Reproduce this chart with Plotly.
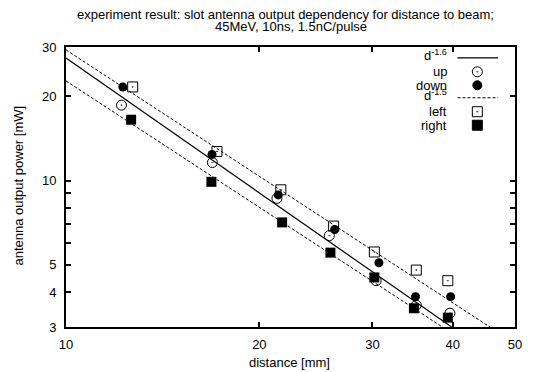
import plotly.graph_objects as go

# ---- data ----
up_x = [12.2, 16.9, 21.3, 25.7, 30.4, 35.1, 39.6]
up_y = [18.6, 11.6, 8.64, 6.36, 4.39, 3.59, 3.36]
down_x = [12.26, 16.88, 21.4, 26.2, 30.7, 35.0, 39.7]
down_y = [21.6, 12.4, 8.89, 6.69, 5.09, 3.85, 3.85]
left_x = [12.7, 17.18, 21.6, 26.1, 30.2, 35.1, 39.3]
left_y = [21.6, 12.7, 9.27, 6.88, 5.56, 4.79, 4.39]
right_x = [12.63, 16.84, 21.7, 25.8, 30.2, 34.8, 39.3]
right_y = [16.5, 9.9, 7.09, 5.53, 4.51, 3.50, 3.24]

# fit lines (values read at distance 10 and 50)
fit_x = [10, 50]
fit16_y = [27.4, 2.085]
fit15_hi_y = [29.3, 2.62]
fit15_lo_y = [22.7, 2.03]

x_ticks = [10, 20, 30, 40, 50]
y_ticks = [3, 4, 5, 10, 20, 30]
y_minor_ticks = [6, 7, 8, 9]

legend_labels = ["d<sup>-1.6</sup>", "up", "down", "d<sup>-1.5</sup>", "left", "right"]

title_lines = ["experiment result: slot antenna output dependency for distance to beam;",
               "45MeV, 10ns, 1.5nC/pulse"]
x_title = "distance [mm]"
y_title = "antenna output power [mW]"

# ---- layout geometry (pixels) ----
W, H = 534, 372
L, R, T, B = 66, 519, 46.7, 327

FONT = "Liberation Sans, Arial, sans-serif"
BLACK = "#000000"
DASH = "3px,2px"
FS = 13


def px_x(p):
    return (p - L) / (R - L)


def px_y(p):
    return (B - p) / (B - T)


fig = go.Figure()

fig.add_trace(go.Scatter(x=fit_x, y=fit16_y, mode="lines",
                         line=dict(color=BLACK, width=1.2), showlegend=False))
fig.add_trace(go.Scatter(x=up_x, y=up_y, mode="markers",
                         marker=dict(symbol="circle-open-dot", size=10, color=BLACK,
                                     line=dict(width=1, color=BLACK)), showlegend=False))
fig.add_trace(go.Scatter(x=down_x, y=down_y, mode="markers",
                         marker=dict(symbol="circle", size=9, color=BLACK), showlegend=False))
fig.add_trace(go.Scatter(x=fit_x, y=fit15_hi_y, mode="lines",
                         line=dict(color=BLACK, width=1, dash=DASH), showlegend=False))
fig.add_trace(go.Scatter(x=fit_x, y=fit15_lo_y, mode="lines",
                         line=dict(color=BLACK, width=1, dash=DASH), showlegend=False))
fig.add_trace(go.Scatter(x=left_x, y=left_y, mode="markers",
                         marker=dict(symbol="square-open-dot", size=10, color=BLACK,
                                     line=dict(width=1, color=BLACK)), showlegend=False))
fig.add_trace(go.Scatter(x=right_x, y=right_y, mode="markers",
                         marker=dict(symbol="square", size=10, color=BLACK), showlegend=False))

# ---- custom gnuplot-style key (text right, sample left) ----
key_rows = [57.5, 71.5, 85, 97.5, 111.5, 125]
key_text_right = 452
key_sample_x = 481
key_line = (461, 502)

for lab, yy in zip(legend_labels, key_rows):
    sup = "<sup>" in lab
    fig.add_annotation(x=px_x(key_text_right), y=px_y(yy - (3 if sup else 0)),
                       xref="paper", yref="paper",
                       text=lab, showarrow=False, xanchor="right", yanchor="middle",
                       font=dict(family=FONT, size=FS, color=BLACK))

for yy, dash in [(key_rows[0], "solid"), (key_rows[3], DASH)]:
    fig.add_shape(type="line", xref="paper", yref="paper",
                  x0=px_x(key_line[0]), x1=px_x(key_line[1]), y0=px_y(yy), y1=px_y(yy),
                  line=dict(color=BLACK, width=1.2 if dash == "solid" else 1, dash=dash))

key_syms = [("circle-open-dot", 10, key_rows[1]), ("circle", 9, key_rows[2]),
            ("square-open-dot", 10, key_rows[4]), ("square", 10, key_rows[5])]
for sym, sz, yy in key_syms:
    fig.add_trace(go.Scatter(x=[key_sample_x], y=[yy], xaxis="x2", yaxis="y2", mode="markers",
                             marker=dict(symbol=sym, size=sz, color=BLACK,
                                         line=dict(width=1, color=BLACK)),
                             showlegend=False, hoverinfo="skip"))

# ---- title & axis titles as text ----
for txt, cx, cy in [(title_lines[0], 287.5, 14.5), (title_lines[1], 293, 26.5)]:
    fig.add_annotation(x=px_x(cx), y=px_y(cy), xref="paper", yref="paper", text=txt,
                       showarrow=False, xanchor="center", yanchor="middle",
                       font=dict(family=FONT, size=FS, color=BLACK))
fig.add_annotation(x=px_x(291.5), y=px_y(363), xref="paper", yref="paper", text=x_title,
                   showarrow=False, xanchor="center", yanchor="middle",
                   font=dict(family=FONT, size=FS, color=BLACK))
fig.add_annotation(x=px_x(18.5), y=px_y(185.5), xref="paper", yref="paper", text=y_title,
                   showarrow=False, xanchor="center", yanchor="middle", textangle=-90,
                   font=dict(family=FONT, size=FS, color=BLACK))

fig.update_layout(
    width=W, height=H,
    margin=dict(l=L, r=W - R, t=T, b=H - B, pad=0),
    paper_bgcolor="white", plot_bgcolor="white",
    font=dict(family=FONT, size=FS, color=BLACK),
    showlegend=False,
    xaxis=dict(type="log", range=[1, 1.69897], tickvals=x_ticks,
               ticktext=[str(v) for v in x_ticks],
               ticks="inside", ticklen=5, tickwidth=1.5, tickcolor=BLACK,
               ticklabelstandoff=4,
               showline=True, linecolor=BLACK, linewidth=2, mirror="ticks",
               showgrid=False, zeroline=False,
               tickfont=dict(family=FONT, size=FS, color=BLACK)),
    yaxis=dict(type="log", range=[0.4771213, 1.4771213], tickvals=y_ticks,
               ticktext=[str(v) for v in y_ticks],
               ticks="inside", ticklen=5, tickwidth=1.5, tickcolor=BLACK,
               ticklabelstandoff=5,
               minor=dict(tickvals=y_minor_ticks, ticks="inside", ticklen=5,
                          tickwidth=1.5, tickcolor=BLACK, showgrid=False),
               showline=True, linecolor=BLACK, linewidth=2, mirror="ticks",
               showgrid=False, zeroline=False,
               tickfont=dict(family=FONT, size=FS, color=BLACK)),
    xaxis2=dict(overlaying="x", range=[L, R], visible=False, fixedrange=True),
    yaxis2=dict(overlaying="y", range=[B, T], visible=False, fixedrange=True),
)

fig.write_html("out.html")
